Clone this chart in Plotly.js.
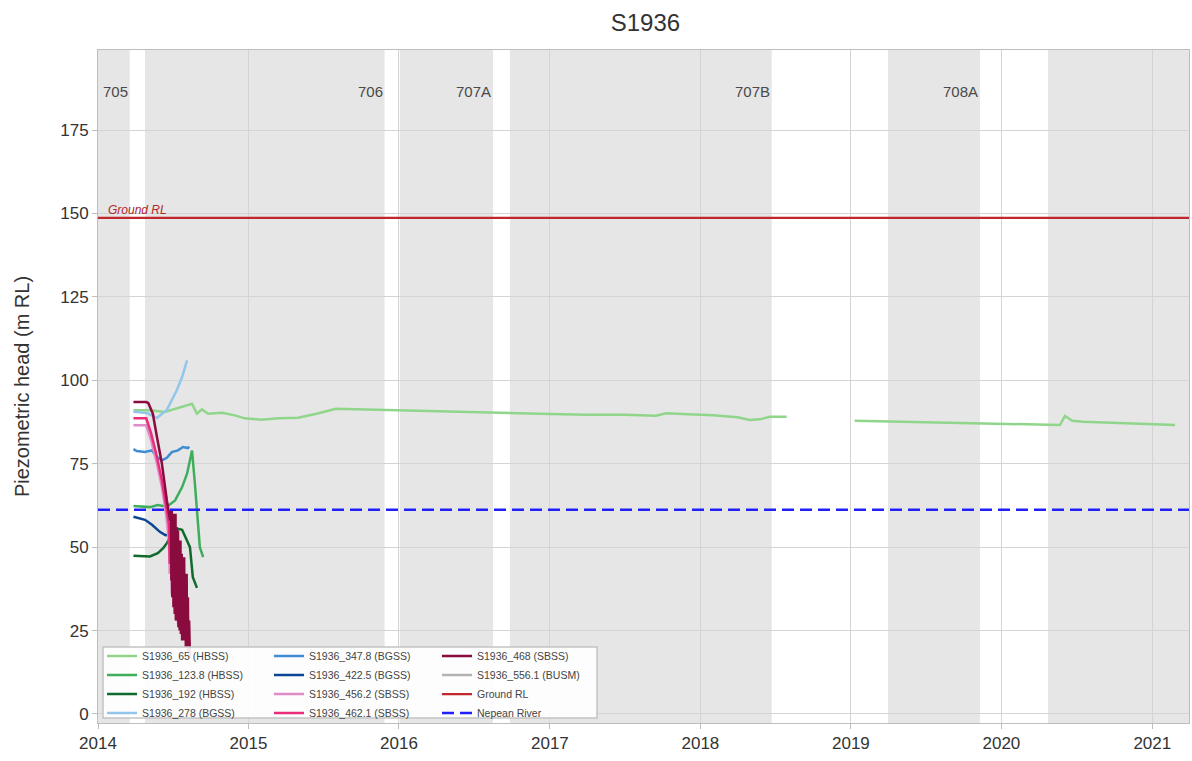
<!DOCTYPE html>
<html>
<head>
<meta charset="utf-8">
<script src="https://cdn.plot.ly/plotly-3.0.1.min.js"></script>
<style>
  html, body { margin: 0; padding: 0; background: #ffffff; }
  #chart { width: 1192px; height: 761px; }
</style>
</head>
<body>
<div id="chart"></div>
<script>
// Longwall panel periods (shaded) and their labels
const panelStart = ['2013-12-01', '2014-04-25', '2016-01-03', '2016-09-26', '2019-04-01', '2020-04-23'];
const panelEnd   = ['2014-03-19', '2015-11-27', '2016-08-16', '2018-06-23', '2019-11-10', '2021-06-30'];
const panelLabel = ['705', '706', '707A', '707B', '708A', ''];

// Piezometer S1936 readings (m RL)
const s65Dates = ['2014-03-28','2014-05-07','2014-06-12','2014-07-10','2014-08-17','2014-08-29','2014-09-10','2014-09-25',
  '2014-10-29','2014-11-29','2014-12-23','2015-02-01','2015-03-15','2015-05-01','2015-06-15','2015-08-01','2015-10-01',
  '2016-01-01','2016-04-01','2016-07-01','2016-10-01','2017-01-01','2017-04-01','2017-07-01','2017-09-15','2017-10-10',
  '2017-12-01','2018-02-01','2018-04-01','2018-05-01','2018-05-25','2018-06-18','2018-07-29','2018-10-01',
  '2019-01-10','2019-06-01','2020-01-01','2020-05-22','2020-06-03','2020-06-21','2020-07-17','2020-12-01','2021-02-25'];
const s65Head = [91.0, 91.0, 90.5, 91.5, 93.0, 90.0, 91.3, 90.0,
  90.3, 89.5, 88.6, 88.2, 88.6, 88.8, 90.0, 91.5, 91.3,
  91.0, 90.6, 90.3, 90.0, 89.9, 89.7, 89.7, 89.4, 90.1,
  89.8, 89.5, 88.9, 88.1, 88.3, 89.1, 89.1, null,
  87.9, 87.5, 86.9, 86.6, 89.3, 87.9, 87.6, 87.1, 86.6];

const s123Dates = ['2014-03-28','2014-05-07','2014-05-26','2014-06-17','2014-07-07','2014-07-24','2014-08-05','2014-08-17',
  '2014-08-24','2014-08-31','2014-09-05','2014-09-13'];
const s123Head = [62.3, 62.0, 62.6, 62.1, 64.0, 68.0, 72.0, 79.0, 69.0, 59.0, 50.0, 47.0];

const s192Dates = ['2014-03-28','2014-05-07','2014-05-26','2014-06-08','2014-06-17','2014-07-07','2014-07-24','2014-08-05',
  '2014-08-12','2014-08-19','2014-08-29'];
const s192Head = [47.4, 47.2, 48.2, 49.7, 51.2, 55.7, 55.2, 52.2, 50.0, 41.0, 37.8];

const s278Dates = ['2014-03-28','2014-04-30','2014-05-24','2014-06-17','2014-07-11','2014-07-24','2014-08-05'];
const s278Head = [90.6, 90.2, 88.7, 91.1, 97.0, 101.0, 106.0];

const s347Dates = ['2014-03-28','2014-04-05','2014-04-25','2014-05-12','2014-05-24','2014-06-05','2014-06-17','2014-06-29',
  '2014-07-14','2014-07-26','2014-08-07','2014-08-10'];
const s347Head = [79.4, 78.8, 78.5, 79.0, 77.0, 76.0, 76.8, 78.5, 79.0, 80.0, 79.7, 80.2];

const s422Dates = ['2014-03-28','2014-04-25','2014-05-12','2014-05-31','2014-06-12','2014-06-17'];
const s422Head = [59.1, 58.2, 56.7, 54.6, 53.7, 53.5];

const s456Dates = ['2014-03-28','2014-04-28','2014-05-10','2014-05-24','2014-06-05','2014-06-15','2014-06-22','2014-06-24',
  '2014-06-27','2014-06-29','2014-07-02','2014-07-04','2014-07-07','2014-07-09','2014-07-12','2014-07-14','2014-07-17',
  '2014-07-19','2014-07-22','2014-07-25','2014-07-28','2014-07-30'];
const s456Head = [86.5, 86.5, 82.0, 75.0, 68.0, 60.0, 52.0, 42.0, 50.0, 36.0, 48.0, 32.0, 45.0, 28.0, 43.0, 27.0, 40.0,
  26.0, 38.0, 27.0, 34.0, 28.0];

const s462Dates = ['2014-03-28','2014-04-28','2014-05-10','2014-05-24','2014-06-05','2014-06-15','2014-06-22','2014-06-24',
  '2014-06-27','2014-06-29','2014-07-02','2014-07-04','2014-07-07','2014-07-09','2014-07-12','2014-07-14','2014-07-17',
  '2014-07-19','2014-07-22','2014-07-24','2014-07-27','2014-07-29','2014-08-01','2014-08-04'];
const s462Head = [88.6, 88.6, 84.0, 77.0, 70.0, 62.0, 57.0, 45.0, 56.0, 40.0, 52.0, 35.0, 50.0, 30.0, 47.0, 28.0, 45.0,
  27.0, 40.0, 30.0, 42.0, 28.0, 35.0, 30.0];

const s468Dates = ['2014-03-28','2014-04-28','2014-05-03','2014-05-14','2014-05-24','2014-06-05','2014-06-17','2014-06-25',
  '2014-06-27','2014-06-28','2014-06-29','2014-06-30','2014-07-02','2014-07-03','2014-07-05','2014-07-06','2014-07-08',
  '2014-07-09','2014-07-11','2014-07-12','2014-07-14','2014-07-15','2014-07-17','2014-07-18','2014-07-20','2014-07-21',
  '2014-07-23','2014-07-24','2014-07-26','2014-07-27','2014-07-29','2014-07-30','2014-08-01','2014-08-02','2014-08-04',
  '2014-08-05','2014-08-07','2014-08-08','2014-08-10','2014-08-12'];
const s468Head = [93.5, 93.5, 93.2, 90.0, 83.0, 75.0, 64.0, 58.0,
  61.0, 40.0, 61.0, 35.0, 60.0, 32.0, 58.0, 30.0, 60.0,
  28.0, 56.0, 30.0, 55.0, 26.0, 50.0, 25.0, 52.0, 24.0,
  48.0, 22.0, 45.0, 30.0, 47.0, 22.0, 40.0, 20.0, 42.0,
  21.0, 35.0, 19.0, 28.0, 17.0];

const s556Dates = ['2014-07-10','2014-07-14','2014-07-18'];
const s556Head = [30.0, 28.0, 27.5];

// Reference levels
const refDates = ['2014-01-01', '2021-03-31'];
const groundRL = [148.7, 148.7];
const nepeanRiver = [61.2, 61.2];

const series = [
  // name, dates, values, colour, legend, rank, width, dash
  ['S1936_556.1 (BUSM)', s556Dates, s556Head, '#b3b3b3', 'legend3', 2, 2.5, 'solid'],
  ['S1936_65 (HBSS)',    s65Dates,  s65Head,  '#8fd68b', 'legend',  1, 2.5, 'solid'],
  ['S1936_123.8 (HBSS)', s123Dates, s123Head, '#3fae5c', 'legend',  2, 2.5, 'solid'],
  ['S1936_192 (HBSS)',   s192Dates, s192Head, '#0f6a2c', 'legend',  3, 2.5, 'solid'],
  ['S1936_278 (BGSS)',   s278Dates, s278Head, '#92c6ea', 'legend',  4, 2.5, 'solid'],
  ['S1936_347.8 (BGSS)', s347Dates, s347Head, '#3f8bd4', 'legend2', 1, 2.5, 'solid'],
  ['S1936_422.5 (BGSS)', s422Dates, s422Head, '#0d4596', 'legend2', 2, 2.5, 'solid'],
  ['S1936_456.2 (SBSS)', s456Dates, s456Head, '#e08bc8', 'legend2', 3, 2.5, 'solid'],
  ['S1936_462.1 (SBSS)', s462Dates, s462Head, '#ea2c7c', 'legend2', 4, 2.5, 'solid'],
  ['S1936_468 (SBSS)',   s468Dates, s468Head, '#8a0c3e', 'legend3', 1, 2.5, 'solid'],
  ['Ground RL',          refDates,  groundRL, '#c0282d', 'legend3', 3, 2.2, 'solid'],
  ['Nepean River',       refDates,  nepeanRiver, '#1f1fff', 'legend3', 4, 2.5, '12px,6px']
];

const traces = series.map(s => ({
  type: 'scatter', mode: 'lines', name: s[0], x: s[1], y: s[2],
  line: {color: s[3], width: s[6], dash: s[7]},
  legend: s[4], legendrank: s[5], connectgaps: false, hoverinfo: 'skip'
}));

const shapes = panelStart.map((d, i) => ({
  type: 'rect', xref: 'x', yref: 'paper', x0: d, x1: panelEnd[i], y0: 0, y1: 1,
  fillcolor: '#e6e6e6', line: {width: 0}, layer: 'below'
}));
// frame around the three legend columns
shapes.push({
  type: 'rect', xref: 'paper', yref: 'paper', x0: 0.0046, x1: 0.4574, y0: 0.0074, y1: 0.1129,
  fillcolor: 'rgba(255,255,255,0.9)', line: {color: '#c4c4c4', width: 1.5}, layer: 'above'
});

const annotations = panelLabel.filter(l => l).map((l, i) => ({
  x: panelEnd[i], y: 186.5, xref: 'x', yref: 'y', text: l, showarrow: false,
  xanchor: 'right', yanchor: 'middle', font: {size: 15, color: '#4a4a4a'}
}));
annotations.push({
  x: '2014-01-20', y: 148.7, xref: 'x', yref: 'y', text: '<i>Ground RL</i>', showarrow: false,
  xanchor: 'left', yanchor: 'bottom', yshift: -1, font: {size: 12, color: '#b0262b'}
});

const legendBase = {
  bgcolor: 'rgba(0,0,0,0)', borderwidth: 0, yanchor: 'top', xanchor: 'left', y: 0.121,
  font: {size: 10.5, color: '#444444', family: 'Liberation Sans, Arial, sans-serif'},
  traceorder: 'normal', itemwidth: 30
};

const layout = {
  width: 1192, height: 761,
  margin: {l: 98, r: 3, t: 50, b: 38},
  paper_bgcolor: '#ffffff', plot_bgcolor: '#ffffff',
  font: {family: 'Liberation Sans, Arial, sans-serif', color: '#333333'},
  title: {text: 'S1936', x: 0.5415, xanchor: 'center', y: 0.97, yanchor: 'middle', font: {size: 24, color: '#333333'}},
  xaxis: {
    type: 'date', range: ['2014-01-01', '2021-03-31'], dtick: 'M12', tickformat: '%Y',
    showgrid: true, gridcolor: '#d4d4d4', gridwidth: 1,
    showline: true, linecolor: '#bdbdbd', linewidth: 1, mirror: true,
    ticks: 'outside', ticklen: 5, tickcolor: '#bdbdbd',
    tickfont: {size: 17, color: '#333333'}, zeroline: false
  },
  yaxis: {
    range: [-2.7, 199], dtick: 25, tick0: 0,
    showgrid: true, gridcolor: '#d4d4d4', gridwidth: 1,
    showline: true, linecolor: '#bdbdbd', linewidth: 1, mirror: true,
    ticks: 'outside', ticklen: 5, tickcolor: '#bdbdbd',
    tickfont: {size: 17, color: '#333333'}, zeroline: false,
    title: {text: 'Piezometric head (m RL)', font: {size: 20, color: '#333333'}, standoff: 25}
  },
  showlegend: true,
  legend:  Object.assign({}, legendBase, {x: 0.0037}),
  legend2: Object.assign({}, legendBase, {x: 0.1567}),
  legend3: Object.assign({}, legendBase, {x: 0.3107}),
  shapes: shapes,
  annotations: annotations
};

Plotly.newPlot('chart', traces, layout, {displayModeBar: false, staticPlot: true});
</script>
</body>
</html>
